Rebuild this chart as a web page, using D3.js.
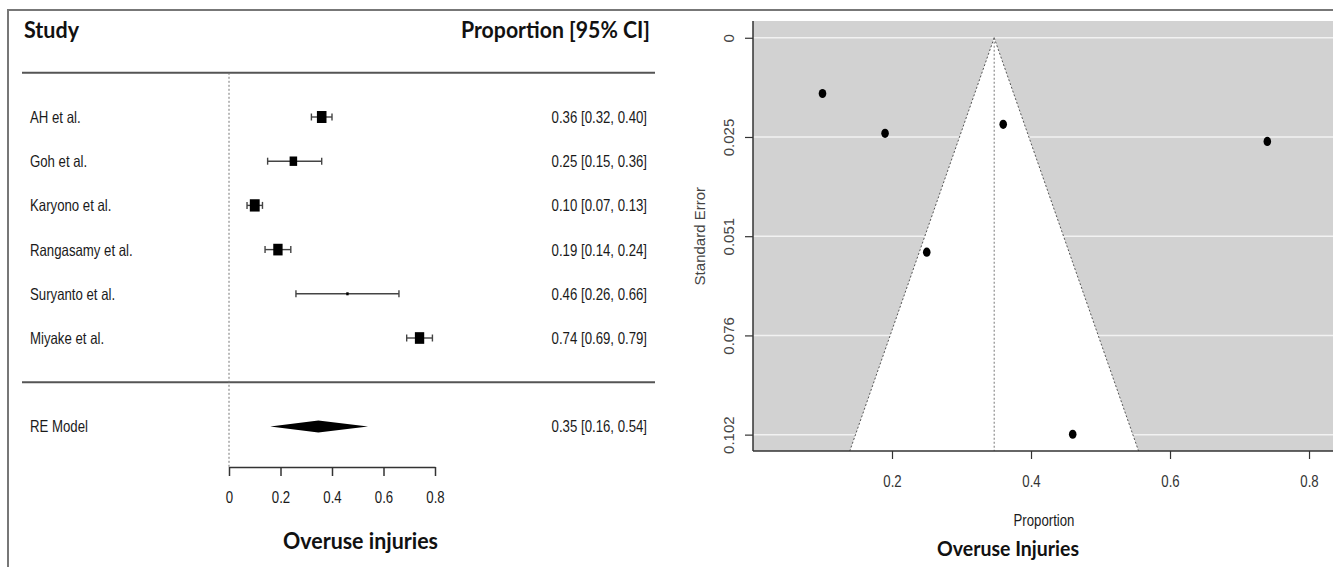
<!DOCTYPE html>
<html>
<head>
<meta charset="utf-8">
<script src="https://cdn.jsdelivr.net/npm/d3@7"></script>
<style>
  body { margin: 0; background: #fff; }
  svg { display: block; }
</style>
</head>
<body>
<div id="chart"></div>
<script>
var studies = ["AH et al.", "Goh et al.", "Karyono et al.", "Rangasamy et al.", "Suryanto et al.", "Miyake et al."];
var estimates = [0.36, 0.25, 0.10, 0.19, 0.46, 0.74];
var ciLower = [0.32, 0.15, 0.07, 0.14, 0.26, 0.69];
var ciUpper = [0.40, 0.36, 0.13, 0.24, 0.66, 0.79];
var weights = [17.3, 16.5, 17.4, 17.2, 14.5, 17.2];   // % weight, sets square size
var stdErrors = [0.0222, 0.0550, 0.0143, 0.0245, 0.1017, 0.0266];

// Random-effects summary
var reModel = [0.347, 0.16, 0.54];   // estimate, lower, upper
var reLabel = "0.35 [0.16, 0.54]";

// Axis ticks
var forestTicks = [0, 0.2, 0.4, 0.6, 0.8];
var funnelTicks = [0.2, 0.4, 0.6, 0.8];
var seTicks = [0, 0.02545, 0.0509, 0.07635, 0.1018];
var seTickLabels = ["0", "0.025", "0.051", "0.076", "0.102"];

var W = 1333, H = 567;
var narrow = 0.8; // R text looks horizontally squeezed
var rFont = "'Liberation Sans', Arial, sans-serif";
var hFont = "Lato, 'Open Sans', sans-serif";

var svg = d3.select("#chart").append("svg")
  .attr("width", W).attr("height", H);

svg.append("rect").attr("width", W).attr("height", H).attr("fill", "#fff");

// frame
svg.append("path").attr("d", "M8,567V10H1333")
  .attr("fill", "none").attr("stroke", "#777").attr("stroke-width", 2);

function rText(g, x, y, txt, anchor, size) {
  return g.append("text")
    .attr("transform", "translate(" + x + "," + y + ") scale(" + narrow + ",1)")
    .attr("text-anchor", anchor || "start")
    .attr("font-family", rFont)
    .attr("font-size", size || 16.5)
    .attr("fill", "#1a1a1a")
    .text(txt);
}

function hText(g, x, y, txt, anchor, len, size) {
  return g.append("text")
    .attr("x", x).attr("y", y)
    .attr("text-anchor", anchor || "start")
    .attr("font-family", hFont)
    .attr("font-weight", "bold")
    .attr("font-size", size || 23)
    .attr("fill", "#111")
    .attr("textLength", len)
    .attr("lengthAdjust", "spacingAndGlyphs")
    .text(txt);
}

//---------------- Forest plot ----------------
var forest = svg.append("g");
var fx = d3.scaleLinear().domain([0, 0.8]).range([229, 435]);
var fy = d3.scaleLinear().domain([1, 6]).range([338, 117]);   // rows k..1, RE at -1
var rows = studies.map(function(s, i) { return studies.length - i; });

var sizeScale = d3.scaleLinear().domain([d3.min(weights), d3.max(weights)]).range([3, 12.3]);

hText(forest, 24, 38, "Study", "start", 55);
hText(forest, 650, 38, "Proportion [95% CI]", "end", 189);

forest.selectAll(".sep").data([7, 0]).enter().append("line")
  .attr("x1", 22).attr("x2", 655)
  .attr("y1", function(d) { return fy(d); }).attr("y2", function(d) { return fy(d); })
  .attr("stroke", "#555").attr("stroke-width", 2);

forest.append("line")
  .attr("x1", fx(0)).attr("x2", fx(0))
  .attr("y1", fy(7)).attr("y2", 467)
  .attr("stroke", "#777").attr("stroke-width", 1).attr("stroke-dasharray", "2,2");

var rowG = forest.selectAll(".row").data(studies).enter().append("g")
  .attr("class", "row")
  .attr("transform", function(d, i) { return "translate(0," + fy(rows[i]) + ")"; });

rowG.each(function(d, i) {
  var g = d3.select(this);
  rText(g, 30, 6, d, "start");
  rText(g, 647, 6, estimates[i].toFixed(2) + " [" + ciLower[i].toFixed(2) + ", " + ciUpper[i].toFixed(2) + "]", "end");
  g.append("line").attr("x1", fx(ciLower[i])).attr("x2", fx(ciUpper[i]))
    .attr("stroke", "#444").attr("stroke-width", 1.4);
  [ciLower[i], ciUpper[i]].forEach(function(v) {
    g.append("line").attr("x1", fx(v)).attr("x2", fx(v)).attr("y1", -3.5).attr("y2", 3.5)
      .attr("stroke", "#444").attr("stroke-width", 1.4);
  });
  var s = sizeScale(weights[i]);
  g.append("rect")
    .attr("x", fx(estimates[i]) - s * narrow / 2).attr("y", -s / 2)
    .attr("width", s * narrow).attr("height", s)
    .attr("fill", "#000");
});

// RE model row
var reY = fy(-1);
rText(forest, 30, reY + 6, "RE Model", "start");
rText(forest, 647, reY + 6, reLabel, "end");
forest.append("polygon")
  .attr("points", [[fx(reModel[1]), reY], [fx(reModel[0]), reY - 6], [fx(reModel[2]), reY], [fx(reModel[0]), reY + 6]].join(" "))
  .attr("fill", "#000");

var fAxis = forest.append("g").attr("transform", "translate(0,467)")
  .call(d3.axisBottom(fx).tickValues(forestTicks).tickSize(9).tickSizeOuter(0).tickFormat(d3.format("~g")));
fAxis.select(".domain").attr("stroke", "#333").attr("stroke-width", 1.5);
fAxis.selectAll(".tick line").attr("stroke", "#333").attr("stroke-width", 1.5);
fAxis.selectAll(".tick text").attr("font-family", rFont).attr("font-size", 16.5).attr("fill", "#1a1a1a")
  .attr("y", 0).attr("dy", 0).attr("transform", "translate(0,36) scale(" + narrow + ",1)");

hText(forest, 283, 549, "Overuse injuries", "start", 155);

//---------------- Funnel plot ----------------
var funnel = svg.append("g");
var px = d3.scaleLinear().domain([0, 0.8345]).range([753, 1333]);
var py = d3.scaleLinear().domain([-0.0043, 0.106]).range([21, 451]);
var seMax = py.domain()[1];

funnel.append("clipPath").attr("id", "plotclip").append("rect")
  .attr("x", 753).attr("y", 21).attr("width", 1333 - 753).attr("height", 451 - 21);

var plot = funnel.append("g").attr("clip-path", "url(#plotclip)");
plot.append("rect").attr("x", 753).attr("y", 21).attr("width", 1333 - 753).attr("height", 451 - 21)
  .attr("fill", "#d2d2d2");

plot.selectAll(".grid").data(seTicks).enter().append("line")
  .attr("x1", 753).attr("x2", 1333)
  .attr("y1", function(d) { return py(d); }).attr("y2", function(d) { return py(d); })
  .attr("stroke", "#f2f2f2").attr("stroke-width", 1.5);

var lo = reModel[0] - 1.96 * seMax, hi = reModel[0] + 1.96 * seMax;
plot.append("polygon")
  .attr("points", [[px(reModel[0]), py(0)], [px(lo), py(seMax)], [px(hi), py(seMax)]].join(" "))
  .attr("fill", "#fff");

[lo, hi].forEach(function(v) {
  plot.append("line").attr("x1", px(reModel[0])).attr("y1", py(0)).attr("x2", px(v)).attr("y2", py(seMax))
    .attr("stroke", "#555").attr("stroke-width", 1).attr("stroke-dasharray", "2,2");
});
plot.append("line").attr("x1", px(reModel[0])).attr("x2", px(reModel[0]))
  .attr("y1", py(0)).attr("y2", py(seMax))
  .attr("stroke", "#777").attr("stroke-width", 1).attr("stroke-dasharray", "2,2");

plot.selectAll(".pt").data(estimates).enter().append("ellipse")
  .attr("cx", function(d) { return px(d); })
  .attr("cy", function(d, i) { return py(stdErrors[i]); })
  .attr("rx", 3.8).attr("ry", 4.6)
  .attr("fill", "#000");

// axes
var yAx = funnel.append("g").attr("transform", "translate(753,0)")
  .call(d3.axisLeft(py).tickValues(seTicks).tickSize(8).tickSizeOuter(0)
    .tickFormat(function(d, i) { return seTickLabels[i]; }));
yAx.select(".domain").attr("d", "M0,21V451").attr("stroke", "#333").attr("stroke-width", 1.5);
yAx.selectAll(".tick line").attr("stroke", "#333").attr("stroke-width", 1.2);
yAx.selectAll(".tick text").attr("font-family", rFont).attr("font-size", 15).attr("fill", "#444")
  .attr("x", 0).attr("dy", 0).attr("text-anchor", "middle")
  .attr("transform", "translate(-19,0) rotate(-90)");

var xAx = funnel.append("g").attr("transform", "translate(0,451)")
  .call(d3.axisBottom(px).tickValues(funnelTicks).tickSize(8).tickSizeOuter(0).tickFormat(d3.format("~g")));
xAx.select(".domain").attr("d", "M753,0H1333").attr("stroke", "#333").attr("stroke-width", 1.5);
xAx.selectAll(".tick line").attr("stroke", "#333").attr("stroke-width", 1.2);
xAx.selectAll(".tick text").attr("font-family", rFont).attr("font-size", 16.5).attr("fill", "#333")
  .attr("y", 0).attr("dy", 0).attr("transform", "translate(0,36) scale(" + narrow + ",1)");

funnel.append("text")
  .attr("transform", "translate(705," + py(0.0509) + ") rotate(-90)")
  .attr("text-anchor", "middle").attr("font-family", rFont).attr("font-size", 15).attr("fill", "#444")
  .text("Standard Error");

rText(funnel, 1044, 526, "Proportion", "middle");
hText(funnel, 1008, 556, "Overuse Injuries", "middle", 142, 21);
</script>
</body>
</html>
